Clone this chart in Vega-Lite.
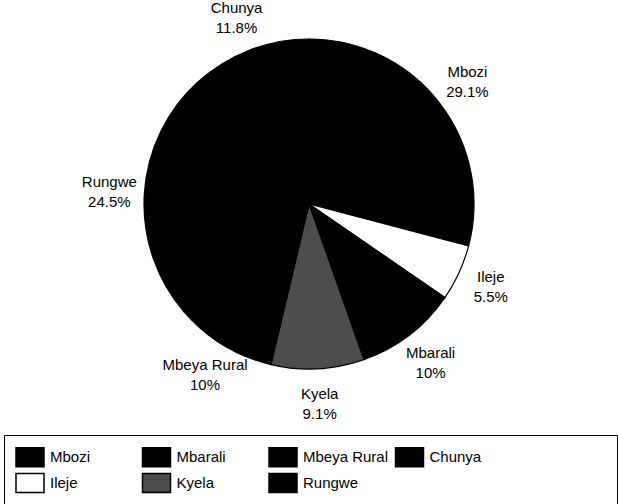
{
  "$schema": "https://vega.github.io/schema/vega-lite/v6.json",
  "width": 618,
  "height": 404,
  "padding": 0,
  "autosize": {"type": "pad"},
  "background": "white",
  "config": {"view": {"stroke": null}, "font": "Liberation Sans"},
  "data": {
    "values": [
      {"district": "Mbozi", "share": 0.291, "slice": 1},
      {"district": "Ileje", "share": 0.055, "slice": 2},
      {"district": "Mbarali", "share": 0.1, "slice": 3},
      {"district": "Kyela", "share": 0.091, "slice": 4},
      {"district": "Mbeya Rural", "share": 0.1, "slice": 5},
      {"district": "Rungwe", "share": 0.245, "slice": 6},
      {"district": "Chunya", "share": 0.118, "slice": 7}
    ]
  },
  "encoding": {
    "theta": {"field": "share", "type": "quantitative", "stack": true},
    "order": {"field": "slice", "type": "quantitative"}
  },
  "layer": [
    {
      "mark": {"type": "arc", "outerRadius": 165, "stroke": "black", "strokeWidth": 1.2},
      "encoding": {
        "color": {
          "field": "district",
          "type": "nominal",
          "scale": {
            "domain": ["Mbozi", "Mbarali", "Mbeya Rural", "Chunya", "Ileje", "Kyela", "Rungwe"],
            "range": ["#000000", "#000000", "#000000", "#000000", "#ffffff", "#4d4d4d", "#000000"]
          },
          "legend": {
            "orient": "none",
            "legendX": 4,
            "legendY": 433,
            "columns": 4,
            "direction": "horizontal",
            "title": " ",
            "titleOrient": "right",
            "titlePadding": 125,
            "padding": 11,
            "strokeColor": "black",
            "symbolType": "M-1,-0.95H1.8V0.95H-1Z",
            "symbolSize": 400,
            "symbolStrokeColor": "black",
            "labelFontSize": 15,
            "labelColor": "black",
            "labelOffset": 13,
            "columnPadding": 3.5,
            "rowPadding": 0,
            "gridAlign": "all"
          }
        }
      }
    },
    {
      "mark": {"type": "text", "radius": 200, "dy": -10, "fontSize": 15, "color": "black"},
      "encoding": {"text": {"field": "district", "type": "nominal"}}
    },
    {
      "mark": {"type": "text", "radius": 200, "dy": 10, "fontSize": 15, "color": "black"},
      "encoding": {"text": {"field": "share", "type": "quantitative", "format": ".1~%"}}
    }
  ]
}
